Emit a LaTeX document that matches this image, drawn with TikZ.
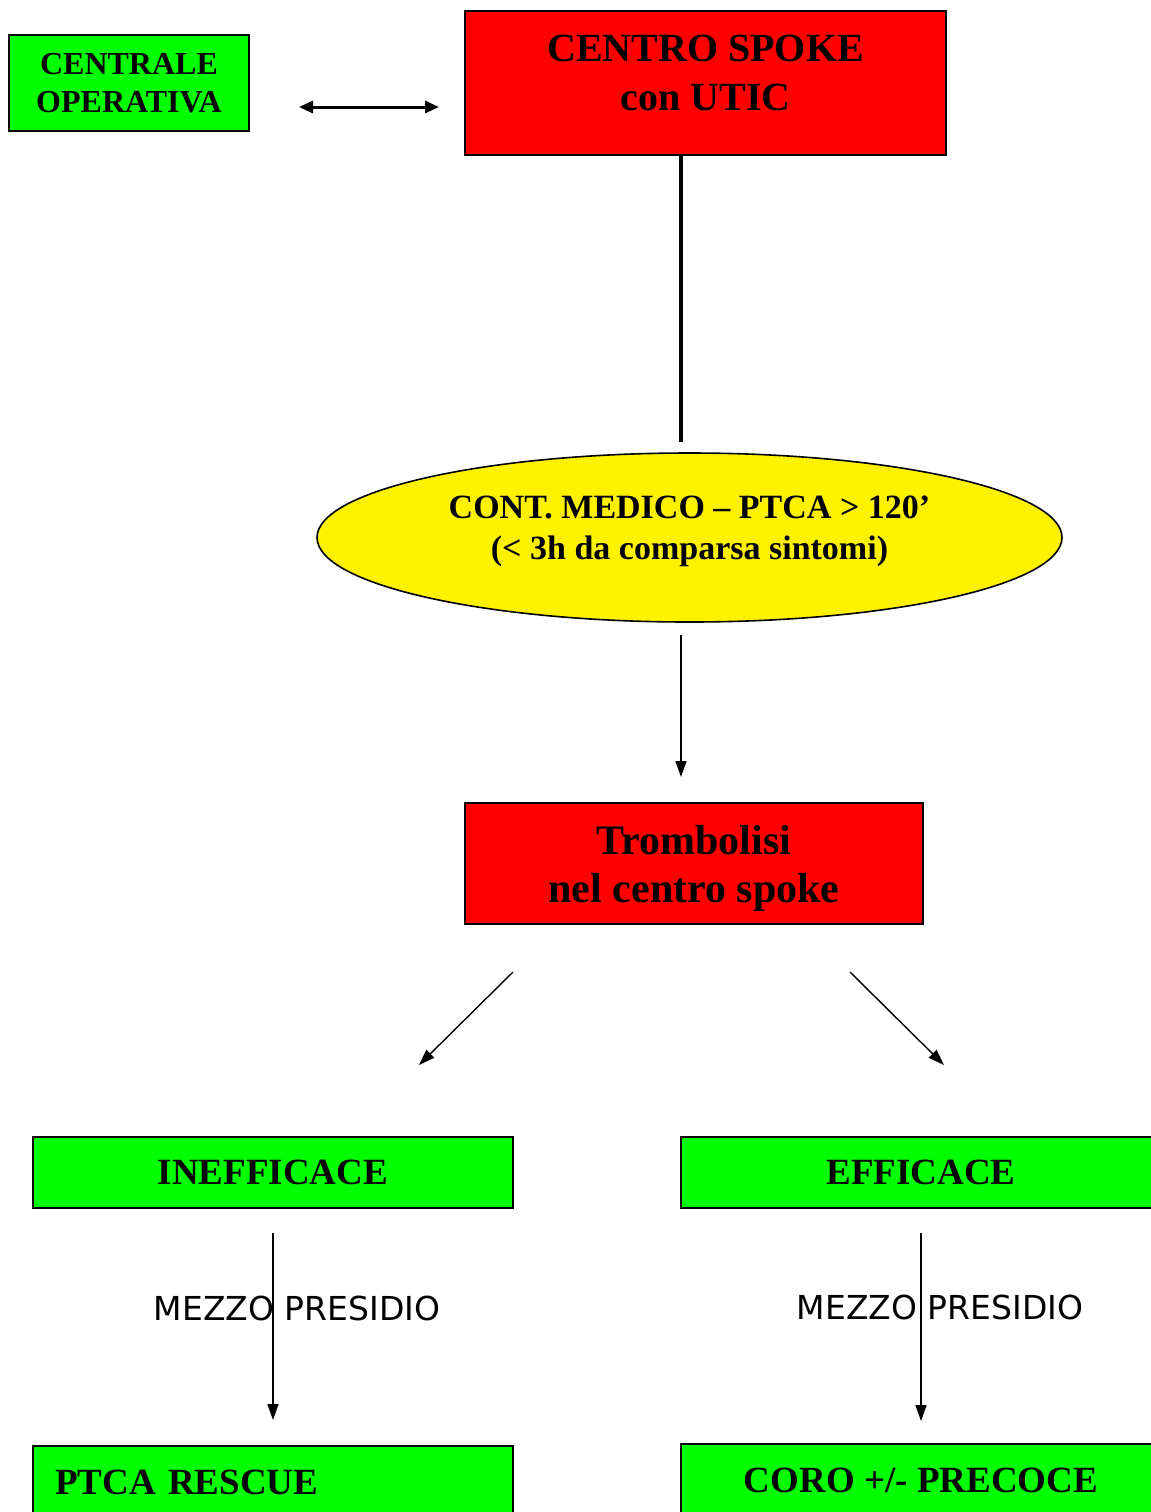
\documentclass[tikz,border=0pt]{standalone}
\usepackage{fontspec}
\setmainfont{Liberation Serif}
\newfontfamily\labelfont{DejaVu Sans}
\usepackage{tikz}
\usetikzlibrary{shapes.geometric, arrows.meta}
\tikzstyle{redbox} = [rectangle, draw=black, line width=1pt, fill=red, align=center, inner sep=0pt]
\tikzstyle{greenbox} = [rectangle, draw=black, line width=1pt, fill=green, align=center, inner sep=0pt, minimum width=240pt, minimum height=35.5pt, font=\bfseries\fontsize{18.5}{22}\selectfont]
\tikzstyle{yellowell} = [ellipse, draw=black, line width=0.8pt, fill=yellow, align=center, inner sep=0pt]
\tikzstyle{arrow} = [line width=0.7pt, -{Triangle[length=8pt,width=5.5pt]}]
\tikzstyle{dblarrow} = [line width=1.5pt, {Triangle[length=7pt,width=6pt]}-{Triangle[length=7pt,width=6pt]}]
\tikzstyle{thickline} = [line width=2pt]
\tikzstyle{mezzo} = [font=\labelfont\fontsize{16.5}{20}\selectfont, inner sep=0pt]

\begin{document}
\begin{tikzpicture}[x=0.5pt, y=-0.5pt]
			\useasboundingbox (0,0) rectangle (1151,1512);
			\clip (0,0) rectangle (1151,1512);
			\node (centrale) [greenbox, minimum width=120pt, minimum height=48pt, font=\bfseries\fontsize{16}{19}\selectfont] at (129,83) {CENTRALE\\OPERATIVA};
			\node (spoke) [redbox, minimum width=240.5pt, minimum height=72pt, text depth=10pt, font=\bfseries\fontsize{20}{24.5}\selectfont] at (705.5,83) {CENTRO SPOKE\\con UTIC};
			\node (cont) [yellowell, minimum width=372.5pt, minimum height=84.5pt, text depth=10pt, font=\bfseries\fontsize{17}{20.5}\selectfont] at (689.5,537.5) {CONT. MEDICO -- PTCA > 120’\\(< 3h da comparsa sintomi)};
			\node (tromb) [redbox, minimum width=229pt, minimum height=60.5pt, text depth=0pt, font=\bfseries\fontsize{21}{24}\selectfont] at (694,863.5) {Trombolisi\\nel centro spoke};
			\node (ineff) [greenbox] at (273,1172.5) {INEFFICACE};
			\node (eff) [greenbox] at (921,1172.5) {EFFICACE};
			\node (ptca) [greenbox, minimum height=36pt, text width=218pt, align=left, inner xsep=11pt] at (273,1482) {PTCA RESCUE};
			\node (coro) [greenbox, minimum height=36pt] at (921,1480) {CORO +/- PRECOCE};
			\draw [dblarrow, shorten <=24.5pt, shorten >=12.5pt] ([yshift=-12pt]centrale.east) -- ([yshift=-12pt]spoke.west);
			\draw [thickline, shorten >=5pt] ([xshift=-12.25pt]spoke.south) -- ([xshift=-12.25pt]spoke.south |- cont.north);
			\draw [arrow, shorten <=6pt, shorten >=12.5pt] ([xshift=-4.25pt]cont.south) -- ([xshift=-4.25pt]cont.south |- tromb.north);
			\draw [arrow] ([shift={(24.5pt,-23.5pt)}]tromb.south west) -- ([shift={(73pt,35.5pt)}]ineff.north);
			\draw [arrow] ([shift={(-37pt,-23.5pt)}]tromb.south east) -- ([shift={(11.5pt,35.5pt)}]eff.north);
			\draw [arrow, shorten <=12pt, shorten >=12.5pt] (ineff) -- node[mezzo, pos=0.42, xshift=12pt] {MEZZO PRESIDIO} (ptca);
			\draw [arrow, shorten <=12pt, shorten >=11pt] (eff) -- node[mezzo, pos=0.42, xshift=9.5pt] {MEZZO PRESIDIO} (coro);
		\end{tikzpicture}
\end{document}
